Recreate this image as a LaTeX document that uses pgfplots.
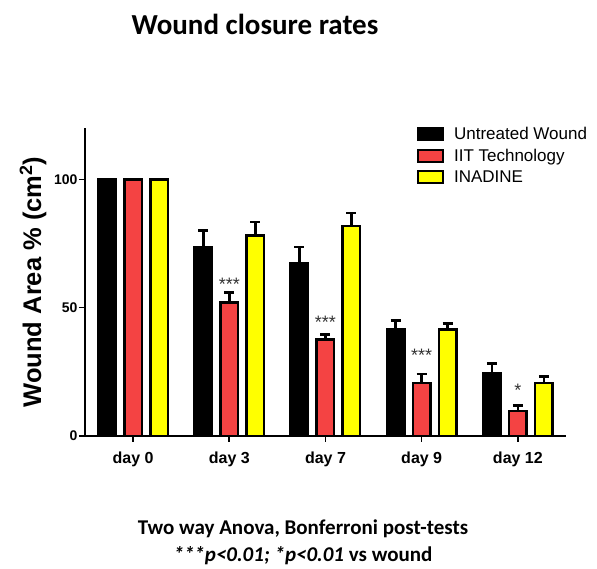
\documentclass[border=0pt]{standalone}
\usepackage{fontspec}
\setmainfont{Liberation Sans}
\newfontfamily\calibri{Carlito}
\usepackage{pgfplots}
\usepackage{pgfplotstable}
\pgfplotsset{compat=1.18}
\definecolor{iitred}{RGB}{244,67,67}
\definecolor{inayellow}{RGB}{255,255,0}

% day, mean and +SEM for each group
\pgfplotstableread{
day wound ewound iit eiit ina eina
0   100   0      100 0    100 0
1   73.7  6.3    52.0 3.9 78.2 5.1
2   67.4  6.2    37.6 2.0 81.8 5.0
3   41.5  3.5    20.7 3.5 41.5 2.3
4   24.3  3.9    9.8  2.0 20.7 2.4
}\closure

\begin{document}
\begin{tikzpicture}
\path (0pt,0pt) rectangle (597pt,569pt);
\begin{axis}[
    at={(85pt,133pt)}, anchor=south west,
    scale only axis,
    width=481pt, height=308pt,
    xmin=-0.5, xmax=4.5,
    ymin=0, ymax=120,
    axis lines=left,
    axis line style={line width=1.6pt, -},
    xtick={0,1,2,3,4},
    xticklabels={day 0, day 3, day 7, day 9, day 12},
    ytick={0,50,100},
    tick align=outside,
    major tick length=6pt,
    tick style={line width=1.6pt, black},
    xticklabel style={font=\fontsize{16}{18}\selectfont\bfseries, yshift=-6pt},
    yticklabel style={font=\fontsize{14}{16}\selectfont\bfseries, xshift=2pt},
    /pgf/number format/assume math mode=true,
    ylabel={Wound Area \% (cm\textsuperscript{2})},
    every axis y label/.style={at={(axis description cs:-0.108,0.5)}, rotate=90, anchor=center,
        font=\fontsize{25.5}{30}\selectfont\bfseries},
    ybar,
    bar width=17.5pt,
    legend style={at={(rel axis cs:0.69,1.01)}, anchor=north west, draw=none, fill=none,
        font=\fontsize{17}{20}\selectfont, row sep=4pt, inner sep=0pt,
        nodes={inner xsep=10pt}},
    legend cell align=left,
    legend image code/.code={\draw[#1, line width=2pt] (0pt,-6pt) rectangle (25pt,6pt);},
    error bars/y dir=plus,
    error bars/y explicit,
    error bars/error mark=-,
    error bars/error bar style={line width=2.5pt, black},
    error bars/error mark options={rotate=90, line width=2.5pt, mark size=5pt, black},
]
\addplot[bar shift=-26pt, draw=black, fill=black, line width=2.5pt]
    table[x=day, y=wound, y error=ewound] {\closure};
\addplot[bar shift=0pt, draw=black, fill=iitred, line width=2.5pt]
    table[x=day, y=iit, y error=eiit] {\closure};
\addplot[bar shift=26pt, draw=black, fill=inayellow, line width=2.5pt]
    table[x=day, y=ina, y error=eina] {\closure};
\legend{Untreated Wound, IIT Technology, INADINE}

% significance marks
\node[font=\fontsize{18}{20}\selectfont, text=black!80] at (axis cs:1,59) {***};
\node[font=\fontsize{18}{20}\selectfont, text=black!80] at (axis cs:2,44.2) {***};
\node[font=\fontsize{18}{20}\selectfont, text=black!80] at (axis cs:3,31.3) {***};
\node[font=\fontsize{18}{20}\selectfont, text=black!80] at (axis cs:4,17.6) {*};
\end{axis}

\node[font=\calibri\fontsize{29}{34}\selectfont\bfseries] at (255pt,545pt) {Wound closure rates};
\node[font=\calibri\fontsize{21}{25}\selectfont\bfseries] at (303pt,40pt) {Two way Anova, Bonferroni post-tests};
\node[font=\calibri\fontsize{21}{25}\selectfont\bfseries] at (303pt,13pt) {\itshape ***p<0.01; *p<0.01 \upshape vs wound};
\end{tikzpicture}
\end{document}
